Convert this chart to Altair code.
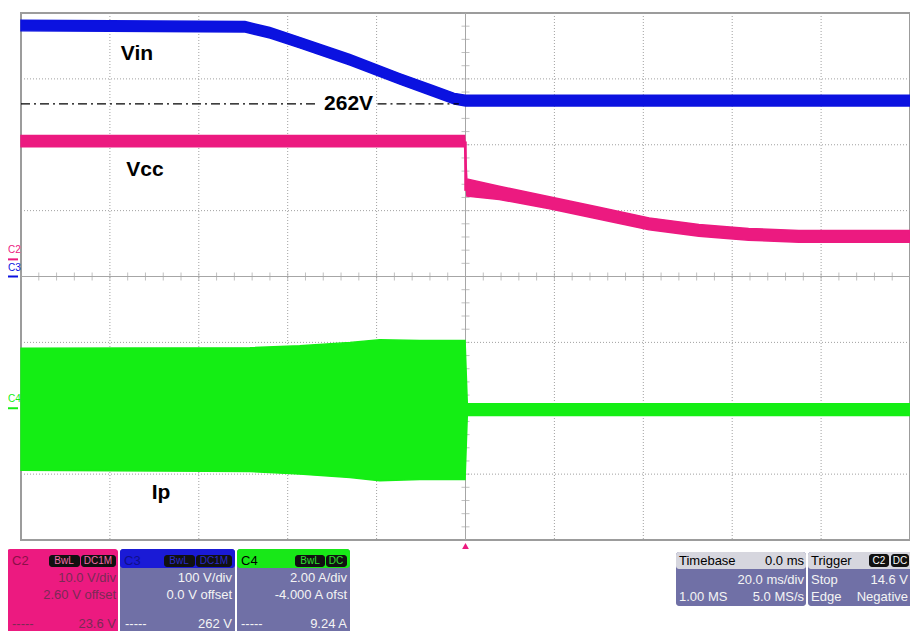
import altair as alt
import pandas as pd
import numpy as np

# ---------------- data: time in ms (20 ms/div, trigger at 0), vertical in screen divisions
vin_t   = [-100, -49.6, -44.0, -37.3, -26.0, -14.8, -7.4, -2.5, 0.0, 100]
vin_top = [3.89, 3.87, 3.78, 3.63, 3.37, 3.08, 2.90, 2.78, 2.75, 2.75]
vin_bot = [3.73, 3.71, 3.62, 3.47, 3.21, 2.92, 2.74, 2.62, 2.59, 2.59]

vcc_t   = [-100, -0.2, 0.3, 7.6, 18.9, 30.1, 41.3, 52.5, 63.7, 75.0, 100]
vcc_top = [2.14, 2.14, 1.48, 1.37, 1.21, 1.05, 0.89, 0.79, 0.73, 0.70, 0.70]
vcc_bot = [1.97, 1.97, 1.22, 1.17, 1.03, 0.87, 0.71, 0.61, 0.55, 0.52, 0.52]

ip_t   = [-100, -48.5, -37.3, -26.0, -19.3, -10.3, -0.1, 0.4, 100]
ip_top = [-1.09, -1.08, -1.05, -1.00, -0.96, -0.97, -0.97, -1.93, -1.93]
ip_bot = [-2.94, -2.96, -3.00, -3.05, -3.10, -3.08, -3.08, -2.11, -2.11]

level_262 = 2.62
trace_labels = ["Vin", "Vcc", "Ip", "262V"]
label_t = [-73.9, -72.1, -68.5, -26.3]
label_d = [3.38, 1.61, -3.29, 2.62]

channel_names = ["C2", "C3", "C4"]
channel_offset_div = [0.26, 0.0, -2.0]

grid_t = [-80, -60, -40, -20, 20, 40, 60, 80]
grid_d = [-3, -2, -1, 1, 2, 3]

# ---------------- style
BLUE, PINK, GREEN = "#0B12E0", "#EC1A80", "#14EE14"
BODY, HEAD = "#7070A6", "#D6D6DE"
PINKTXT = "#7A2A55"
FONT = "Liberation Sans"
W, H = 889, 527
PADL, PADT = 13, 5

xs = alt.Scale(domain=[-100, 100], nice=False, zero=False)
ys = alt.Scale(domain=[-4, 4], nice=False, zero=False)

def X(f):
    return alt.X(f, type="quantitative", scale=xs, axis=None)

def Y(f):
    return alt.Y(f, type="quantitative", scale=ys, axis=None)

# dotted grid
gx = alt.Chart(pd.DataFrame({"t": grid_t})).mark_rule(
    color="#A0A0A0", strokeWidth=1, strokeDash=[1, 2]).encode(x=X("t:Q"))
gy = alt.Chart(pd.DataFrame({"d": grid_d})).mark_rule(
    color="#A0A0A0", strokeWidth=1, strokeDash=[1, 2]).encode(y=Y("d:Q"))

# centre crosshair with minor ticks
center = pd.DataFrame({"t": [0.0], "d": [0.0]})
vline = alt.Chart(center).mark_rule(color="#A6A6A6", strokeWidth=1).encode(x=X("t:Q"))
hline = alt.Chart(center).mark_rule(color="#A6A6A6", strokeWidth=1).encode(y=Y("d:Q"))
tx = pd.DataFrame({"t": np.arange(-100, 100.1, 4.0), "z": 0.0})
ty = pd.DataFrame({"d": np.arange(-4, 4.01, 0.2), "z": 0.0})
ticks_h = alt.Chart(tx).mark_tick(orient="vertical", size=8, thickness=1, color="#A6A6A6").encode(
    x=X("t:Q"), y=Y("z:Q"))
ticks_v = alt.Chart(ty).mark_tick(orient="horizontal", size=8, thickness=1, color="#A6A6A6").encode(
    x=X("z:Q"), y=Y("d:Q"))

# traces
def band(ts, top, bot, color):
    df = pd.DataFrame({"t": ts, "top": top, "bot": bot})
    return alt.Chart(df).mark_area(color=color, opacity=1, stroke=color, strokeWidth=1.5).encode(
        x=X("t:Q"), y=Y("top:Q"), y2="bot:Q")

vin = band(vin_t, vin_top, vin_bot, BLUE)
vcc = band(vcc_t, vcc_top, vcc_bot, PINK)
ip = band(ip_t, ip_top, ip_bot, GREEN)
drop = alt.Chart(pd.DataFrame({"t": [0.0], "a": [2.05], "b": [1.30]})).mark_rule(
    color=PINK, strokeWidth=2.5).encode(x=X("t:Q"), y=Y("a:Q"), y2="b:Q")

# 262 V reference dash-dot line (broken by its label)
ref = pd.DataFrame({"a": [-100, -19.8], "b": [-33.2, -1.5], "d": [level_262] * 2})
ref_line = alt.Chart(ref).mark_rule(color="black", strokeWidth=1.3, strokeDash=[9, 4, 2, 4]).encode(
    x=X("a:Q"), x2="b:Q", y=Y("d:Q"))

labels = alt.Chart(pd.DataFrame({"t": label_t, "d": label_d, "txt": trace_labels})).mark_text(
    font=FONT, fontWeight="bold", fontSize=21, color="black", align="center", baseline="middle").encode(
    x=X("t:Q"), y=Y("d:Q"), text="txt:N")

# channel markers on the left edge
ch = pd.DataFrame({"name": channel_names, "d": channel_offset_div, "c": [PINK, BLUE, GREEN]})
ch_mark = alt.Chart(ch).mark_rule(strokeWidth=2).encode(
    x=alt.value(-13), x2=alt.value(-3), y=Y("d:Q"),
    color=alt.Color("c:N", scale=None, legend=None))
ch_text = alt.Chart(ch).mark_text(font=FONT, fontSize=10, align="left", baseline="middle", dy=-9).encode(
    x=alt.value(-13), y=Y("d:Q"), text="name:N",
    color=alt.Color("c:N", scale=None, legend=None))

trig = alt.Chart(center).mark_point(shape="triangle-up", filled=True, size=45, color=PINK, opacity=1).encode(
    x=X("t:Q"), y=alt.value(H + 6))

# ---------------- info panels (page pixel layout)
def P(px, py):
    return px - 21, py - 13

box_rows = [
    (7, 549, 118, 650, PINK),
    (120, 549, 235, 650, BODY), (120, 549, 235, 568, "#1A1AD6"),
    (237, 549, 350, 650, BODY), (237, 549, 350, 568, "#18E818"),
    (676, 552, 806, 606, BODY), (676, 552, 806, 569, HEAD),
    (808, 552, 920, 606, BODY), (808, 552, 920, 569, HEAD),
    (49, 555, 80, 567, "#111111"), (81, 555, 116, 567, "#111111"),
    (164, 555, 195, 567, "#111111"), (196, 555, 232, 567, "#111111"),
    (295, 555, 325, 567, "#111111"), (326, 555, 347, 567, "#111111"),
    (869, 554, 889, 567, "#111111"), (891, 554, 909, 567, "#111111"),
]
bx = pd.DataFrame([dict(x=P(a, b)[0], y=P(a, b)[1], x2=P(c, d)[0], y2=P(c, d)[1], c=col)
                   for a, b, c, d, col in box_rows])
boxes = alt.Chart(bx).mark_rect(cornerRadius=3).encode(
    x=alt.X("x:Q", scale=None, axis=None), x2="x2:Q",
    y=alt.Y("y:Q", scale=None, axis=None), y2="y2:Q",
    fill=alt.Fill("c:N", scale=None, legend=None))

W_ = "#F4F4F4"
L = 624
txt_left = [
    ("C2", 12, 561, "#8A1048"), ("C3", 124, 561, "#10108A"), ("C4", 241, 561, "#000000"),
    ("-----", 12, L, PINKTXT), ("-----", 125, L, W_), ("-----", 241, L, W_),
    ("Timebase", 679, 561, "#000000"), ("1.00 MS", 679, 597, W_),
    ("Trigger", 811, 561, "#000000"), ("Stop", 811, 580, W_), ("Edge", 811, 597, W_),
]
txt_right = [
    ("10.0 V/div", 116, 578, PINKTXT), ("2.60 V offset", 116, 595, PINKTXT), ("23.6 V", 116, L, PINKTXT),
    ("100 V/div", 232, 578, W_), ("0.0 V offset", 232, 595, W_), ("262 V", 232, L, W_),
    ("2.00 A/div", 347, 578, W_), ("-4.000 A ofst", 347, 595, W_), ("9.24 A", 347, L, W_),
    ("0.0 ms", 804, 561, "#000000"), ("20.0 ms/div", 804, 580, W_), ("5.0 MS/s", 804, 597, W_),
    ("14.6 V", 908, 580, W_), ("Negative", 908, 597, W_),
]
txt_tag = [
    ("BwL", 64, 561, "#F06CA8"), ("DC1M", 98, 561, "#F06CA8"),
    ("BwL", 179, 561, "#2A2AC8"), ("DC1M", 214, 561, "#2A2AC8"),
    ("BwL", 310, 561, "#30E030"), ("DC", 336, 561, "#30E030"),
    ("C2", 879, 561, "#FFFFFF"), ("DC", 900, 561, "#FFFFFF"),
]

def tdf(rows):
    return pd.DataFrame([dict(text=t, x=P(a, b)[0], y=P(a, b)[1], c=c) for t, a, b, c in rows])

def px_text(rows, align, size):
    return alt.Chart(tdf(rows)).mark_text(align=align, baseline="middle", font=FONT, fontSize=size).encode(
        x=alt.X("x:Q", scale=None, axis=None),
        y=alt.Y("y:Q", scale=None, axis=None),
        text="text:N",
        color=alt.Color("c:N", scale=None, legend=None))

tl = px_text(txt_left, "left", 13)
tr = px_text(txt_right, "right", 13)
tt = px_text(txt_tag, "center", 10)

chart = alt.layer(
    gx, gy, vline, hline, ticks_h, ticks_v,
    ip, vcc, drop, vin, ref_line, labels,
    ch_mark, ch_text, trig,
    boxes, tl, tr, tt,
).properties(
    width=W, height=H,
    autosize=alt.AutoSizeParams(type="none"),
    padding={"left": PADL, "top": PADT, "right": 0, "bottom": 91},
    background="white",
).configure_view(stroke="#9C9C9C", strokeWidth=2)

chart.save("out.html", embed_options={"renderer": "svg", "actions": False})
